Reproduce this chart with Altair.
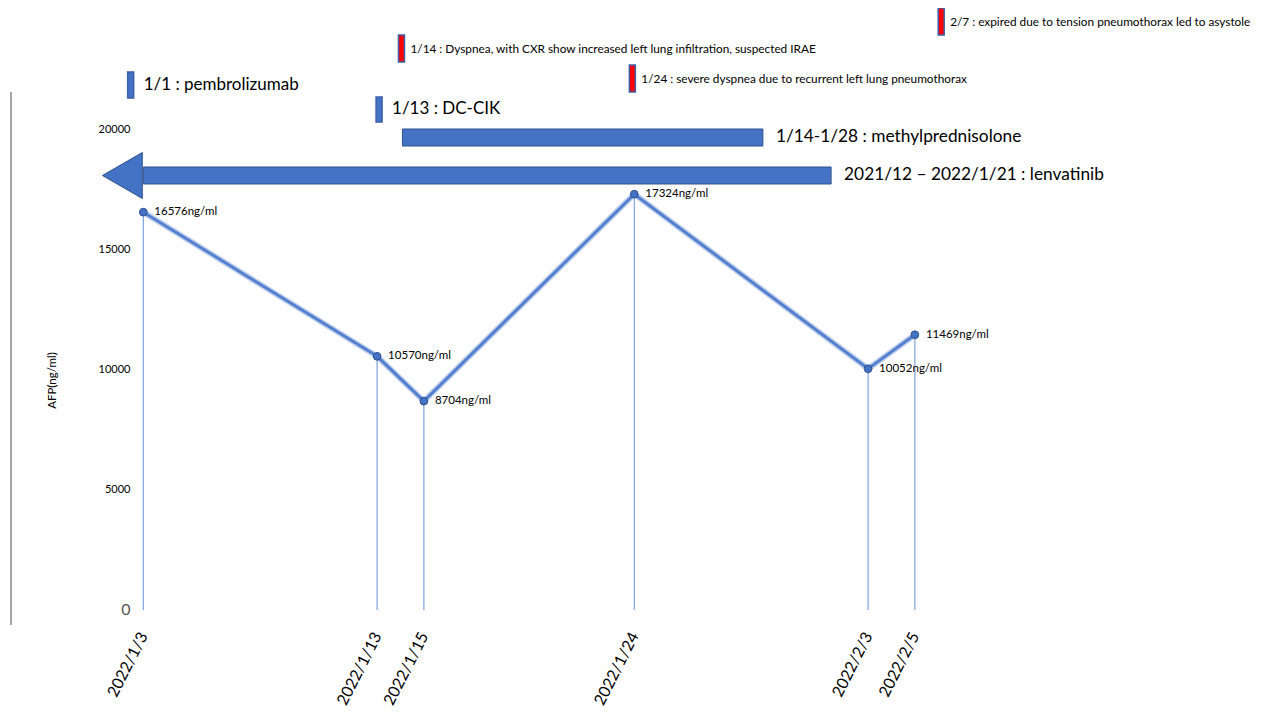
import altair as alt
import pandas as pd

# ---- AFP measurements ----
dates = ["2022-01-03", "2022-01-13", "2022-01-15", "2022-01-24", "2022-02-03", "2022-02-05"]
afp = [16576, 10570, 8704, 17324, 10052, 11469]
afp_labels = ["16576ng/ml", "10570ng/ml", "8704ng/ml", "17324ng/ml", "10052ng/ml", "11469ng/ml"]

# ---- treatment bars (as drawn) ----
treat_labels = ["2021/12 \u2013 2022/1/21 : lenvatinib", "1/14-1/28 : methylprednisolone"]
treat_start = ["2022-01-03T00:00:00Z", "2022-01-14T02:00:00Z"]
treat_end = ["2022-02-01T10:00:00Z", "2022-01-29T12:00:00Z"]
treat_low = [17750, 19333]
treat_high = [18458, 20042]

# arrow head of lenvatinib bar
arrow_date = ["2022-01-02T02:30:00Z"]
arrow_afp = [18104]

# ---- events (markers) ----
event_labels = [
    "1/1 : pembrolizumab",
    "1/13 : DC-CIK",
    "1/14 : Dyspnea, with CXR show increased left lung infiltration, suspected IRAE",
    "1/24 : severe dyspnea due to recurrent left lung pneumothorax",
    "2/7 : expired due to tension pneumothorax led to asystole",
]
event_dates = ["2022-01-02T11:00:00Z", "2022-01-13T02:00:00Z", "2022-01-14T01:00:00Z",
               "2022-01-23T22:00:00Z", "2022-02-06T03:00:00Z"]
event_low = [21333, 20333, 22833, 21583, 23958]
event_high = [22417, 21375, 23958, 22708, 25083]
event_kind = ["drug", "drug", "adverse", "adverse", "adverse"]

ytick_values = [0, 5000, 10000, 15000, 20000]

FONT = "Lato"
BLUE = "#4472C4"
DARK = "#2F528F"

main = pd.DataFrame({"date": [d + "T00:00:00Z" for d in dates], "afp": afp, "label": afp_labels})
treat = pd.DataFrame({"name": treat_labels, "start": treat_start, "end": treat_end,
                      "low": treat_low, "high": treat_high})
arrow = pd.DataFrame({"date": arrow_date, "afp": arrow_afp})
events = pd.DataFrame({"name": event_labels, "date": event_dates, "low": event_low,
                       "high": event_high, "kind": event_kind})

def dt(s):
    y, m, d = [int(v) for v in s.split("-")]
    return alt.DateTime(year=y, month=m, date=d, utc=True)

xs = alt.Scale(type="utc", domain=[alt.DateTime(year=2021, month=12, date=28, hours=12, minutes=17, utc=True),
                                   alt.DateTime(year=2022, month=2, date=19, hours=11, minutes=5, utc=True)])
ys = alt.Scale(domain=[-500, 25083], nice=False, zero=False)

x_axis = alt.Axis(values=[dt(d) for d in dates], labelExpr="utcFormat(datum.value, '%Y/%-m/%-d')",
                  labelAngle=-63, labelAlign="right", labelBaseline="middle", labelFontSize=16,
                  labelFont=FONT, labelColor="#000000", labelPadding=11, domain=False, ticks=False,
                  grid=False, title=None, labelOverlap=False)
y_axis = alt.Axis(values=ytick_values, format="d", domain=False, ticks=False, tickSize=0, grid=False,
                  labelPadding=-120, labelAlign="right", labelFont=FONT,
                  labelFontSize=alt.ExprRef("datum.value == 0 ? 16 : 11"),
                  labelColor=alt.ExprRef("datum.value == 0 ? '#555555' : '#000000'"),
                  title="AFP(ng/ml)", titleX=47, titleY=372, titleAngle=-90, titleFont=FONT,
                  titleFontSize=11.5, titleFontWeight="normal", titleColor="#000000")

def X(f):
    return alt.X(f, scale=xs, axis=x_axis)

def Y(f):
    return alt.Y(f, scale=ys, axis=y_axis)

base = alt.Chart(main)

drops = base.mark_rule(color="#7EA3E0", strokeWidth=1.2).encode(
    x=X("date:T"), y=Y("afp:Q"), y2=alt.datum(0))

glow = base.mark_line(color="#B4C7E7", strokeWidth=6, opacity=0.8).encode(x=X("date:T"), y=Y("afp:Q"))
line = base.mark_line(color="#5580D0", strokeWidth=3).encode(x=X("date:T"), y=Y("afp:Q"))
pts = base.mark_circle(size=60, color=BLUE, stroke=DARK, strokeWidth=1, opacity=1).encode(
    x=X("date:T"), y=Y("afp:Q"))
pt_text = base.mark_text(align="left", baseline="middle", dx=11, font=FONT, fontSize=11.5,
                         color="#000000").encode(x=X("date:T"), y=Y("afp:Q"), text="label:N")

left_line = base.mark_rule(color="#A6A6A6", strokeWidth=2).encode(
    x=alt.value(1), y=alt.value(84), y2=alt.value(617))

tbase = alt.Chart(treat)
t_bars = tbase.mark_rect(color=BLUE, stroke=DARK, strokeWidth=1).encode(
    x=X("start:T"), x2="end:T", y=Y("low:Q"), y2="high:Q")
t_text = tbase.transform_calculate(mid="(datum.low + datum.high) / 2").mark_text(
    align="left", baseline="middle", dx=13, font=FONT, fontSize=17.3, color="#000000").encode(
    x=X("end:T"), y=Y("mid:Q"), text="name:N")

arrow_head = alt.Chart(arrow).mark_point(shape="triangle-left", size=2116, filled=True,
                                         fill=BLUE, stroke=DARK, strokeWidth=1, opacity=1).encode(
    x=X("date:T"), y=Y("afp:Q"))

ebase = alt.Chart(events)
e_bars = ebase.mark_bar(size=6, stroke="#3B5FA8", strokeWidth=1.5).encode(
    x=X("date:T"), y=Y("low:Q"), y2="high:Q",
    color=alt.condition(alt.datum.kind == "drug", alt.value(BLUE), alt.value("#FF0000")))
e_text_big = ebase.transform_filter(alt.datum.kind == "drug").transform_calculate(
    mid="(datum.low + datum.high) / 2").mark_text(
    align="left", baseline="middle", dx=13, font=FONT, fontSize=17, color="#000000").encode(
    x=X("date:T"), y=Y("mid:Q"), text="name:N")
e_text_small = ebase.transform_filter(alt.datum.kind == "adverse").transform_calculate(
    mid="(datum.low + datum.high) / 2").mark_text(
    align="left", baseline="middle", dx=9, font=FONT, fontSize=11.8, color="#000000").encode(
    x=X("date:T"), y=Y("mid:Q"), text="name:N")

chart = alt.layer(
    drops, left_line, glow, line, pts, pt_text, t_bars, arrow_head, t_text,
    e_bars, e_text_big, e_text_small
).properties(
    width=1248, height=614,
    autosize=alt.AutoSizeParams(type="none"),
    padding={"left": 2, "top": 0, "right": 0, "bottom": 88},
    background="#ffffff",
).configure_view(stroke=None)

chart.save("out.html", embed_options={"renderer": "svg", "actions": False})
